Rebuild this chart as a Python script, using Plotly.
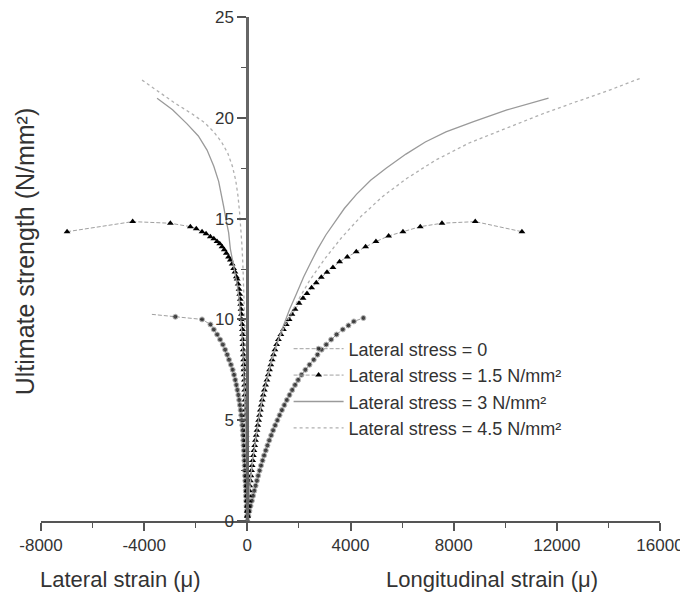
import plotly.graph_objects as go

# ---------------- data ----------------
# Lateral stress = 0
s0_lat_stress = [0, 0.25, 0.5, 0.75, 1.0, 1.25, 1.5, 1.75, 2.0, 2.25, 2.5, 2.75, 3.0, 3.25, 3.5, 3.75,
                 4.0, 4.25, 4.5, 4.75, 5.0, 5.25, 5.5, 5.75, 6.0, 6.25, 6.5, 6.75, 7.0, 7.25, 7.5, 7.75,
                 8.0, 8.25, 8.5, 8.75, 9.0, 9.25, 9.5, 9.75, 10.0, 10.13, 10.25]
s0_lat_strain = [0, -12, -22, -32, -42, -52, -60, -68, -77, -86, -95, -105, -115, -124, -133, -143,
                 -153, -163, -176, -195, -215, -236, -260, -287, -315, -348, -385, -425, -468, -515, -568, -635,
                 -710, -780, -860, -950, -1055, -1170, -1300, -1430, -1756, -2791, -3700]
s0_lon_stress = [0, 0.25, 0.5, 0.75, 1.0, 1.25, 1.5, 1.75, 2.0, 2.25, 2.5, 2.75, 3.0, 3.25, 3.5, 3.75,
                 4.0, 4.25, 4.5, 4.75, 5.0, 5.25, 5.5, 5.75, 6.0, 6.25, 6.5, 6.75, 7.0, 7.25, 7.5, 7.75,
                 8.0, 8.25, 8.5, 8.75, 9.0, 9.25, 9.5, 9.7, 9.9, 10.07]
s0_lon_strain = [0, 40, 80, 125, 175, 222, 270, 320, 370, 420, 475, 530, 590, 650, 715, 780,
                 850, 925, 1000, 1080, 1165, 1250, 1340, 1435, 1530, 1635, 1740, 1850, 1970, 2100, 2250, 2410,
                 2575, 2720, 2880, 3060, 3250, 3460, 3700, 3920, 4130, 4500]

# Lateral stress = 1.5 N/mm2
s15_lat_stress = [0, 0.25, 0.5, 0.75, 1.0, 1.25, 1.5, 1.75, 2.0, 2.25, 2.5, 2.75, 3.0, 3.25, 3.5, 3.75,
                  4.0, 4.25, 4.5, 4.75, 5.0, 5.25, 5.5, 5.75, 6.0, 6.25, 6.5, 6.75, 7.0, 7.25, 7.5, 7.75,
                  8.0, 8.25, 8.5, 8.75, 9.0, 9.25, 9.5, 9.75, 10.0, 10.25, 10.5, 10.75, 11.0, 11.25, 11.5,
                  11.75, 12.0, 12.12, 12.35, 12.53, 12.75, 12.95, 13.1, 13.28, 13.45, 13.6, 13.75, 13.86,
                  14.0, 14.1, 14.25, 14.35, 14.5, 14.6, 14.77, 14.85, 14.35]
s15_lat_strain = [0, -2, -4, -6, -8, -10, -12, -14, -16, -18, -21, -24, -27, -31, -35, -40,
                  -45, -50, -55, -60, -66, -71, -77, -83, -89, -95, -101, -107, -114, -121, -128, -135,
                  -143, -150, -158, -166, -174, -181, -190, -200, -215, -231, -245, -260, -273, -295, -320,
                  -355, -395, -426, -480, -531, -590, -659, -730, -814, -895, -981, -1070, -1175,
                  -1300, -1434, -1600, -1756, -1980, -2209, -2984, -4446, -6989]
s15_lon_stress = [0, 0.25, 0.5, 0.75, 1.0, 1.25, 1.5, 1.75, 2.0, 2.25, 2.5, 2.75, 3.0, 3.25, 3.5, 3.75,
                  4.0, 4.25, 4.5, 4.75, 5.0, 5.25, 5.5, 5.75, 6.0, 6.25, 6.5, 6.75, 7.0, 7.25, 7.5, 7.75,
                  8.0, 8.25, 8.5, 8.75, 9.0, 9.25, 9.5, 9.75, 10.0, 10.25, 10.5, 10.8, 11.05, 11.29, 11.57,
                  11.82, 12.09, 12.34, 12.58, 12.86, 13.1, 13.36, 13.6, 13.86, 14.14, 14.35, 14.6, 14.77,
                  14.85, 14.35]
s15_lon_strain = [0, 13, 26, 39, 52, 65, 78, 92, 117, 140, 163, 187, 210, 233, 257, 286,
                  315, 345, 375, 406, 438, 471, 505, 541, 578, 618, 660, 708, 760, 810, 860, 910,
                  960, 1015, 1070, 1135, 1205, 1300, 1400, 1510, 1620, 1730, 1850, 2004, 2159, 2313, 2492,
                  2674, 2868, 3089, 3320, 3578, 3876, 4225, 4586, 4987, 5478, 6034, 6705, 7546,
                  8837, 10647]

# Lateral stress = 3 N/mm2
s3_lat_stress = [0, 1, 2.8, 4.8, 6.5, 8, 9.3, 10.2, 11, 11.7, 12.3, 12.8, 13.5, 14.3, 14.9, 15.6, 16.2,
                 16.85, 17.6, 18.4, 19.1, 19.7, 20.4, 20.97]
s3_lat_strain = [0, -15, -40, -75, -115, -160, -210, -260, -320, -390, -470, -560, -659, -725, -820, -918,
                 -1000, -1112, -1300, -1562, -1900, -2337, -2900, -3500]
s3_lon_stress = [0, 1, 2, 3, 4, 5, 6, 7, 8, 9, 9.8, 10.5, 11.2, 12.1, 12.8, 13.5, 14.2, 14.8, 15.5,
                 16.2, 16.9, 17.5, 18.2, 18.8, 19.3, 19.81, 20.39, 20.97]
s3_lon_strain = [0, 50, 112, 205, 310, 430, 570, 745, 940, 1200, 1420, 1640, 1880, 2182, 2450, 2730,
                 3050, 3370, 3760, 4230, 4780, 5380, 6150, 6900, 7700, 8771, 10066, 11679]

# Lateral stress = 4.5 N/mm2
s45_lat_stress = [0, 2.5, 5.5, 8, 10, 11.6, 12.8, 13.7, 14.5, 15.3, 16.1, 16.9, 17.6, 18.25, 18.8,
                  19.3, 19.75, 20.2, 20.72, 21.3, 21.87]
s45_lat_strain = [0, -20, -45, -75, -105, -140, -175, -210, -250, -300, -360, -450, -580, -760, -1000,
                  -1300, -1650, -2150, -2800, -3450, -4082]
s45_lon_stress = [0, 1, 2, 3, 4, 5, 6, 7, 8, 9, 9.8, 10.8, 11.9, 13.0, 14.05, 15.1, 16.1, 17.0, 17.9,
                  18.75, 19.5, 20.15, 20.75, 21.35, 21.96]
s45_lon_strain = [0, 52, 115, 205, 312, 435, 575, 755, 955, 1210, 1500, 1900, 2400, 3000, 3650, 4400,
                  5250, 6190, 7300, 8600, 10066, 11357, 12648, 14000, 15233]

series_names = ["Lateral stress = 0", "Lateral stress = 1.5 N/mm²",
                "Lateral stress = 3 N/mm²", "Lateral stress = 4.5 N/mm²"]

x_tick_vals = [-8000, -4000, 0, 4000, 8000, 12000, 16000]
x_tick_text = ["-8000", "-4000", "0", "4000", "8000", "12000", "16000"]
y_tick_vals = [0, 5, 10, 15, 20, 25]


def join(lat_x, lat_y, lon_x, lon_y):
    # one continuous curve: lateral branch (outer end -> origin) then longitudinal branch
    xs = list(reversed(lat_x)) + list(lon_x[1:])
    ys = list(reversed(lat_y)) + list(lon_y[1:])
    return xs, ys


FONT = "Liberation Sans, Arial, sans-serif"
TXT = "#333333"
fig = go.Figure()

x0, y0 = join(s0_lat_strain, s0_lat_stress, s0_lon_strain, s0_lon_stress)
sizes0 = [5] * len(x0)
sizes0[0] = 0
fig.add_trace(go.Scatter(x=x0, y=y0, mode="lines+markers", name=series_names[0],
                         line=dict(color="#a0a0a0", width=1, dash="4px,2px"),
                         marker=dict(symbol="circle", size=sizes0, color="black")))

x1, y1 = join(s15_lat_strain, s15_lat_stress, s15_lon_strain, s15_lon_stress)
fig.add_trace(go.Scatter(x=x1, y=y1, mode="lines+markers", name=series_names[1],
                         line=dict(color="#a0a0a0", width=1, dash="4px,2px"),
                         marker=dict(symbol="triangle-up", size=6, color="black")))

x2, y2 = join(s3_lat_strain, s3_lat_stress, s3_lon_strain, s3_lon_stress)
fig.add_trace(go.Scatter(x=x2, y=y2, mode="lines", name=series_names[2],
                         line=dict(color="#9a9a9a", width=1.3)))

x3, y3 = join(s45_lat_strain, s45_lat_stress, s45_lon_strain, s45_lon_stress)
fig.add_trace(go.Scatter(x=x3, y=y3, mode="lines", name=series_names[3],
                         line=dict(color="#b0b0b0", width=1.3, dash="3px,3px")))

# the page body adds an 8px offset, so the figure is 8px smaller than the window
fig.update_layout(
    width=680, height=590,
    margin=dict(l=33, r=28, t=9, b=77),
    paper_bgcolor="white", plot_bgcolor="white",
    font=dict(family=FONT, color=TXT, size=17),
    showlegend=True,
    legend=dict(x=0.400, y=0.378, xanchor="left", yanchor="top",
                bgcolor="rgba(0,0,0,0)", font=dict(size=18, color=TXT),
                tracegroupgap=0, itemwidth=50),
    xaxis=dict(range=[-8000, 16000], tickvals=x_tick_vals, ticktext=x_tick_text, automargin=False,
               ticklabeloverflow="allow",
               showgrid=False, zeroline=False, showline=True, linecolor="#555555", linewidth=2,
               ticks="outside", ticklen=8, tickwidth=1.5, tickcolor="#555555",
               minor=dict(dtick=2000, ticks="outside", ticklen=5, tickwidth=1.2, tickcolor="#555555"),
               tickfont=dict(size=17, color=TXT)),
    yaxis=dict(range=[0, 25], tickvals=y_tick_vals, anchor="free", position=1 / 3, automargin=False,
               ticklabeloverflow="allow",
               showgrid=False, zeroline=False, showline=True, linecolor="#666666", linewidth=3,
               ticks="outside", ticklen=9, tickwidth=1.5, tickcolor="#555555",
               minor=dict(dtick=2.5, ticks="outside", ticklen=5, tickwidth=1.2, tickcolor="#555555"),
               tickfont=dict(size=17, color=TXT)),
    annotations=[
        dict(text="Ultimate strength (N/mm²)", xref="paper", yref="paper", x=-0.026, y=0.535,
             textangle=-90, showarrow=False, xanchor="center", yanchor="middle",
             font=dict(size=25, color=TXT)),
        dict(text="Lateral strain (μ)", xref="paper", yref="paper", x=0.128, y=-0.117,
             showarrow=False, xanchor="center", yanchor="middle",
             font=dict(size=22, color=TXT)),
        dict(text="Longitudinal strain (μ)", xref="paper", yref="paper", x=0.729, y=-0.117,
             showarrow=False, xanchor="center", yanchor="middle",
             font=dict(size=22, color=TXT)),
    ],
)

fig.write_html("out.html")
